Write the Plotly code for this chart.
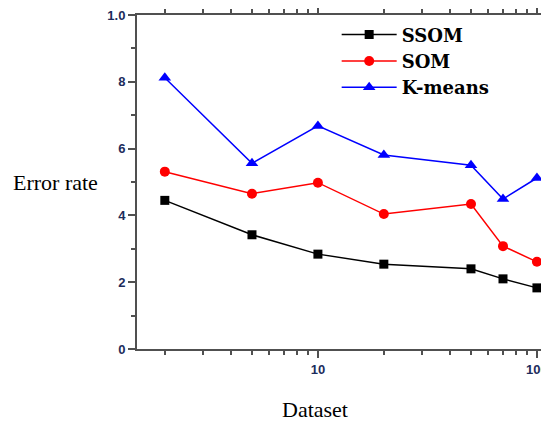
import plotly.graph_objects as go

datasets = [2, 5, 10, 20, 50, 70, 100]
ssom = [0.445, 0.342, 0.284, 0.254, 0.240, 0.210, 0.183]
som = [0.531, 0.465, 0.498, 0.404, 0.434, 0.308, 0.261]
kmeans = [0.812, 0.556, 0.668, 0.581, 0.550, 0.449, 0.512]

y_tickvals = [0, 0.2, 0.4, 0.6, 0.8, 1.0]
y_ticktext = ["<b>0</b>", "<b>2</b>", "<b>4</b>", "<b>6</b>", "<b>8</b>", "<b>1.0</b>"]
x_tickvals = [10, 100]
x_ticktext = ["<b>10</b>", "<b>100</b>"]
x_minor = [2, 3, 4, 5, 6, 7, 8, 9, 20, 30, 40, 50, 60, 70, 80, 90]

fig = go.Figure()
fig.add_trace(go.Scatter(x=datasets, y=ssom, name="<b>SSOM</b>", mode="lines+markers",
                         line=dict(color="black", width=1.5),
                         marker=dict(symbol="square", size=9, color="black")))
fig.add_trace(go.Scatter(x=datasets, y=som, name="<b>SOM</b>", mode="lines+markers",
                         line=dict(color="#ff0000", width=1.5),
                         marker=dict(symbol="circle", size=10, color="#ff0000")))
fig.add_trace(go.Scatter(x=datasets, y=kmeans, name="<b>K-means</b>", mode="lines+markers",
                         line=dict(color="#0000ff", width=1.5),
                         marker=dict(symbol="triangle-up", size=11, color="#0000ff")))

axis_common = dict(showline=True, linecolor="#505050", linewidth=2, showgrid=False,
                   zeroline=False, ticks="outside", tickcolor="#505050", tickwidth=1.5,
                   ticklen=7, mirror="allticks", automargin=False,
                   ticklabeloverflow="allow",
                   tickfont=dict(family="Liberation Sans", size=13, color="#1c2c5c"))

fig.update_xaxes(type="log", range=[0.174, 2.046], tickmode="array",
                 tickvals=x_tickvals, ticktext=x_ticktext,
                 minor=dict(tickvals=x_minor, ticks="outside", ticklen=4,
                            tickcolor="#505050", tickwidth=1.5),
                 **axis_common)
fig.update_yaxes(range=[0, 1.0], tickmode="array", tickvals=y_tickvals, ticktext=y_ticktext,
                 minor=dict(dtick=0.1, tick0=0, ticks="outside", ticklen=4,
                            tickcolor="#505050", tickwidth=1.5),
                 **axis_common)

fig.update_layout(
    width=549, height=421,
    margin=dict(l=129, r=10, t=7, b=80, autoexpand=False),
    paper_bgcolor="white", plot_bgcolor="white",
    showlegend=True,
    legend=dict(x=0.487, y=0.996, xanchor="left", yanchor="top",
                bgcolor="rgba(0,0,0,0)", borderwidth=0,
                font=dict(family="DejaVu Serif", size=18, color="black"),
                itemwidth=55, tracegroupgap=0),
    annotations=[
        dict(text="Error rate", xref="paper", yref="paper", x=-0.2, y=0.5,
             xanchor="center", yanchor="middle", showarrow=False,
             font=dict(family="Liberation Serif", size=22, color="black")),
        dict(text="Dataset", xref="paper", yref="paper", x=0.434, y=-0.18,
             xanchor="center", yanchor="middle", showarrow=False,
             font=dict(family="Liberation Serif", size=22, color="black")),
    ],
)

fig.write_html("out.html")
